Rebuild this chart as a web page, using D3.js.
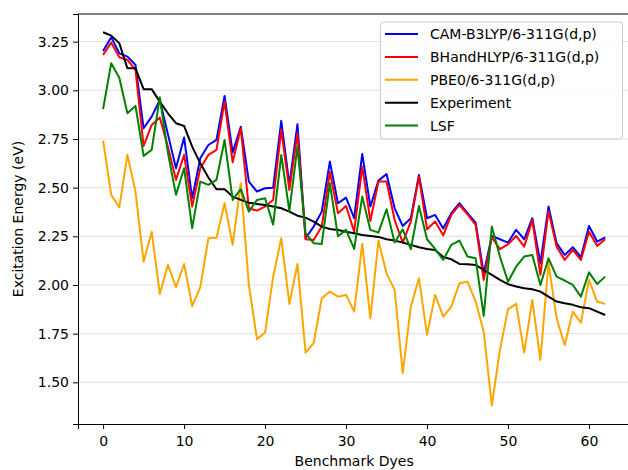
<!DOCTYPE html>
<html>
<head>
<meta charset="utf-8">
<script src="https://cdn.jsdelivr.net/npm/d3@7"></script>
<style>
  body { margin: 0; background: #fff; }
  svg { display: block; font-family: "DejaVu Sans", sans-serif; }
</style>
</head>
<body>
<svg id="chart" width="628" height="470"></svg>
<script>
const camB3lyp = [3.202,3.272,3.190,3.173,3.130,2.805,2.865,2.950,2.775,2.600,
  2.758,2.445,2.651,2.719,2.745,2.971,2.680,2.813,2.531,2.480,
  2.497,2.500,2.843,2.514,2.826,2.240,2.300,2.377,2.634,2.420,
  2.449,2.343,2.673,2.403,2.536,2.570,2.394,2.303,2.343,2.565,
  2.343,2.360,2.290,2.369,2.420,2.369,2.320,2.060,2.252,2.235,
  2.218,2.283,2.235,2.343,2.112,2.403,2.215,2.154,2.194,2.143,
  2.303,2.223,2.245];
const bhandhlyp = [3.182,3.245,3.170,3.156,3.105,2.714,2.822,2.860,2.710,2.540,
  2.668,2.403,2.600,2.668,2.694,2.942,2.630,2.805,2.394,2.382,
  2.403,2.437,2.797,2.488,2.780,2.235,2.231,2.300,2.582,2.369,
  2.406,2.274,2.608,2.329,2.531,2.531,2.334,2.218,2.326,2.557,
  2.286,2.326,2.255,2.360,2.411,2.363,2.309,2.026,2.245,2.184,
  2.209,2.252,2.197,2.334,2.052,2.380,2.197,2.129,2.180,2.129,
  2.274,2.201,2.235];
const pbe0 = [2.742,2.463,2.399,2.668,2.480,2.120,2.274,1.954,2.103,1.989,
  2.108,1.892,1.989,2.240,2.243,2.420,2.206,2.523,2.000,1.722,
  1.755,2.043,2.240,1.903,2.108,1.653,1.701,1.932,1.966,1.940,
  1.949,1.863,2.211,1.829,2.228,2.060,1.975,1.547,1.889,2.035,
  1.744,1.949,1.838,1.889,2.009,2.017,1.915,1.761,1.381,1.667,
  1.876,1.903,1.653,1.923,1.615,2.112,1.829,1.692,1.863,1.807,
  2.026,1.915,1.903];
const experiment = [3.298,3.281,3.242,3.113,3.113,3.006,3.006,2.942,2.882,2.831,
  2.817,2.711,2.625,2.552,2.492,2.492,2.454,2.437,2.423,2.416,
  2.411,2.403,2.394,2.377,2.356,2.346,2.326,2.300,2.288,2.283,
  2.274,2.266,2.257,2.252,2.247,2.235,2.228,2.218,2.206,2.194,
  2.185,2.180,2.144,2.132,2.108,2.106,2.103,2.077,2.052,2.026,
  2.004,1.992,1.983,1.978,1.966,1.940,1.915,1.906,1.898,1.886,
  1.881,1.863,1.846];
const lsf = [2.903,3.139,3.065,2.882,2.920,2.663,2.694,2.964,2.680,2.463,
  2.600,2.292,2.531,2.514,2.540,2.745,2.437,2.492,2.377,2.437,
  2.446,2.310,2.668,2.380,2.711,2.266,2.215,2.211,2.523,2.250,
  2.283,2.185,2.454,2.283,2.269,2.389,2.218,2.286,2.184,2.406,
  2.235,2.185,2.129,2.206,2.228,2.146,2.137,1.841,2.300,2.146,
  2.017,2.094,2.146,2.154,2.000,2.137,2.043,2.023,2.000,1.940,
  2.065,2.005,2.043];

const seriesNames = ["CAM-B3LYP/6-311G(d,p)","BHandHLYP/6-311G(d,p)","PBE0/6-311G(d,p)","Experiment","LSF"];
const seriesColors = ["#0000ff","#ff0000","#ffa500","#000000","#008000"];
const seriesValues = [camB3lyp, bhandhlyp, pbe0, experiment, lsf];
const xTicks = [0,10,20,30,40,50,60];
const yTicks = [1.50,1.75,2.00,2.25,2.50,2.75,3.00,3.25];
const xLabel = "Benchmark Dyes";
const yLabel = "Excitation Energy (eV)";

const svg = d3.select("#chart");
const L = 78, R = 630.3, T = 14, B = 424;
const x = d3.scaleLinear().domain([-3.1, 65.1]).range([L, R]);
const y = d3.scaleLinear().domain([1.286, 3.392]).range([B, T]);

// grid
svg.append("g").selectAll("line").data(yTicks).join("line")
  .attr("x1", L).attr("x2", R)
  .attr("y1", d => y(d)).attr("y2", d => y(d))
  .attr("stroke", "#e0e0e0").attr("stroke-width", 1);

// lines
const line = d3.line().x((d, i) => x(i)).y(d => y(d));
seriesValues.forEach((vals, k) => {
  svg.append("path").datum(vals)
    .attr("fill", "none")
    .attr("stroke", seriesColors[k])
    .attr("stroke-width", 2)
    .attr("stroke-linejoin", "round")
    .attr("d", line);
});

// axes
const xAxis = svg.append("g").attr("transform", `translate(0,${B})`)
  .call(d3.axisBottom(x).tickValues(xTicks).tickFormat(d3.format("d")).tickSizeOuter(0).tickSize(5).tickPadding(7));
const yAxis = svg.append("g").attr("transform", `translate(${L},0)`)
  .call(d3.axisLeft(y).tickValues(yTicks).tickFormat(d3.format(".2f")).tickSizeOuter(0).tickSize(5).tickPadding(4));
[xAxis, yAxis].forEach(g => {
  g.selectAll("text").attr("font-size", 14).attr("fill", "#000").attr("font-family", "DejaVu Sans");
  g.selectAll("line").attr("stroke", "#000");
  g.select(".domain").attr("stroke", "#000");
});
// top spine
svg.append("line").attr("x1", L).attr("x2", R).attr("y1", T).attr("y2", T)
  .attr("stroke", "#000").attr("stroke-width", 1);

// axis labels
svg.append("text").attr("x", (L + R) / 2).attr("y", 466)
  .attr("text-anchor", "middle").attr("font-size", 14).text(xLabel);
svg.append("text").attr("transform", `translate(22.5,${(T + B) / 2}) rotate(-90)`)
  .attr("text-anchor", "middle").attr("font-size", 14).text(yLabel);

// legend
const lg = svg.append("g");
lg.append("rect").attr("x", 380.5).attr("y", 22).attr("width", 242).attr("height", 117)
  .attr("rx", 3).attr("fill", "#fff").attr("fill-opacity", 0.8)
  .attr("stroke", "#cccccc").attr("stroke-width", 1);
seriesNames.forEach((name, k) => {
  const yy = 34 + k * 22.9;
  lg.append("line").attr("x1", 385).attr("x2", 418).attr("y1", yy).attr("y2", yy)
    .attr("stroke", seriesColors[k]).attr("stroke-width", 2);
  lg.append("text").attr("x", 430).attr("y", yy + 5).attr("font-size", 14).text(name);
});
</script>
</body>
</html>
